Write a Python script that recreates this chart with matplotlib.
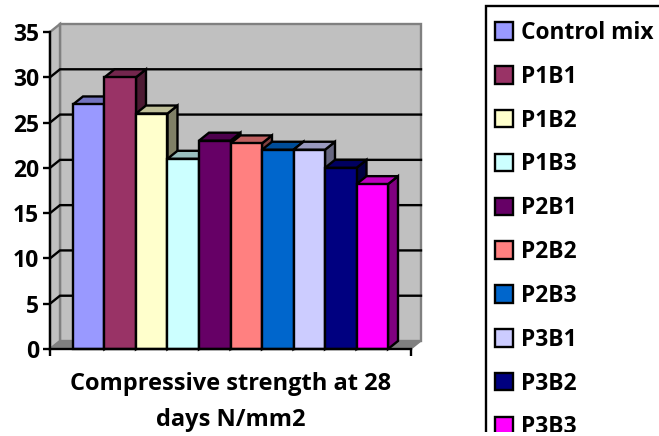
import matplotlib
matplotlib.use('Agg')
import matplotlib.pyplot as plt
from matplotlib.colors import to_rgb
from matplotlib.patches import Patch, Polygon, Rectangle

labels = ['Control mix', 'P1B1', 'P1B2', 'P1B3', 'P2B1', 'P2B2', 'P2B3', 'P3B1', 'P3B2', 'P3B3']
strength = [27, 30, 26, 21, 23, 22.7, 22, 22, 20, 18.2]
colours = ['#9999FF', '#993366', '#FFFFCC', '#CCFFFF', '#660066',
           '#FF8080', '#0066CC', '#CCCCFF', '#000080', '#FF00FF']
y_ticks = [0, 5, 10, 15, 20, 25, 30, 35]

plt.rcParams['font.family'] = ['Open Sans', 'DejaVu Sans']
plt.rcParams['font.weight'] = 'bold'

W, H = 659, 436
fig = plt.figure(figsize=(W / 100, H / 100), dpi=100)
ax = fig.add_axes([50 / W, (H - 349) / H, 361 / W, 317 / H])
ax.patch.set_visible(False)

x0, x1 = -1.23, 10.23
y0, y1 = 0, 35
ax.set_xlim(x0, x1)
ax.set_ylim(y0, y1)

# depth of the fake 3d, in data units (about 10px right, 8px up)
dx = 0.317
dy = 0.883
lw = 1.7


def shade(colour, k):
    return tuple(c * k for c in to_rgb(colour))


def add_poly(points, face, edge, width, z):
    ax.add_patch(Polygon(points, closed=True, facecolor=face, edgecolor=edge,
                         linewidth=width, zorder=z, clip_on=False, joinstyle='miter'))


# walls and floor
add_poly([(x0 + dx, y0 + dy), (x1 + dx, y0 + dy), (x1 + dx, y1 + dy), (x0 + dx, y1 + dy)],
         '#C0C0C0', '#808080', 1.7, 1)
add_poly([(x0, y0), (x0 + dx, y0 + dy), (x0 + dx, y1 + dy), (x0, y1)],
         '#C0C0C0', '#808080', 1.7, 1)
add_poly([(x0, y0), (x1, y0), (x1 + dx, y0 + dy), (x0 + dx, y0 + dy)],
         '#808080', '#808080', 1.0, 1)

# gridlines on the back wall, with the little diagonal on the side wall
for v in y_ticks[1:-1]:
    ax.plot([x0, x0 + dx, x1 + dx], [v, v + dy, v + dy], color='black', lw=lw,
            zorder=2, clip_on=False, solid_joinstyle='miter')

# bars
for i, (v, c) in enumerate(zip(strength, colours)):
    l = i - 0.5
    r = i + 0.5
    z = 3 + i * 0.1
    add_poly([(r, 0), (r + dx, dy), (r + dx, v + dy), (r, v)], shade(c, 0.5), 'black', lw, z)
    add_poly([(l, v), (r, v), (r + dx, v + dy), (l + dx, v + dy)], shade(c, 0.75), 'black', lw, z)
    add_poly([(l, 0), (r, 0), (r, v), (l, v)], c, 'black', lw, z)

for s in ['top', 'right']:
    ax.spines[s].set_visible(False)
for s in ['left', 'bottom']:
    ax.spines[s].set_linewidth(lw)
    ax.spines[s].set_zorder(6)

ax.set_yticks(y_ticks)
ax.tick_params(axis='y', length=5, width=lw, labelsize=16.5, pad=3)
ax.set_xticks([x0, x1])
ax.set_xticklabels(['', ''])
ax.tick_params(axis='x', length=5, width=lw)
ax.set_xlabel('Compressive strength at 28\ndays N/mm2', fontsize=17, fontweight='bold',
              labelpad=8, linespacing=1.65)

# legend box: only left and top edges fall inside the picture
fig.add_artist(Rectangle((485.5 / W, -10 / H), 200 / W, (H + 10 - 6.5) / H, transform=fig.transFigure,
                         facecolor='white', edgecolor='black', linewidth=lw, zorder=7))

handles = [Patch(facecolor=c, edgecolor='black', linewidth=lw) for c in colours]
leg = ax.legend(handles, labels, loc='upper left', bbox_to_anchor=(495 / W, 1 - 21 / H),
                bbox_transform=fig.transFigure, fontsize=16.4, borderaxespad=0, borderpad=0,
                frameon=False, handlelength=0.8, handleheight=0.8, handletextpad=0.36,
                labelspacing=0.87)
leg.set_zorder(8)
ax.set_zorder(8)

# the legend box runs off the chart area at the bottom
fig.add_artist(Rectangle((0, 0), 1, 4 / H, transform=fig.transFigure, facecolor='white',
                         edgecolor='none', zorder=10))

fig.savefig('out.png', dpi=100)
